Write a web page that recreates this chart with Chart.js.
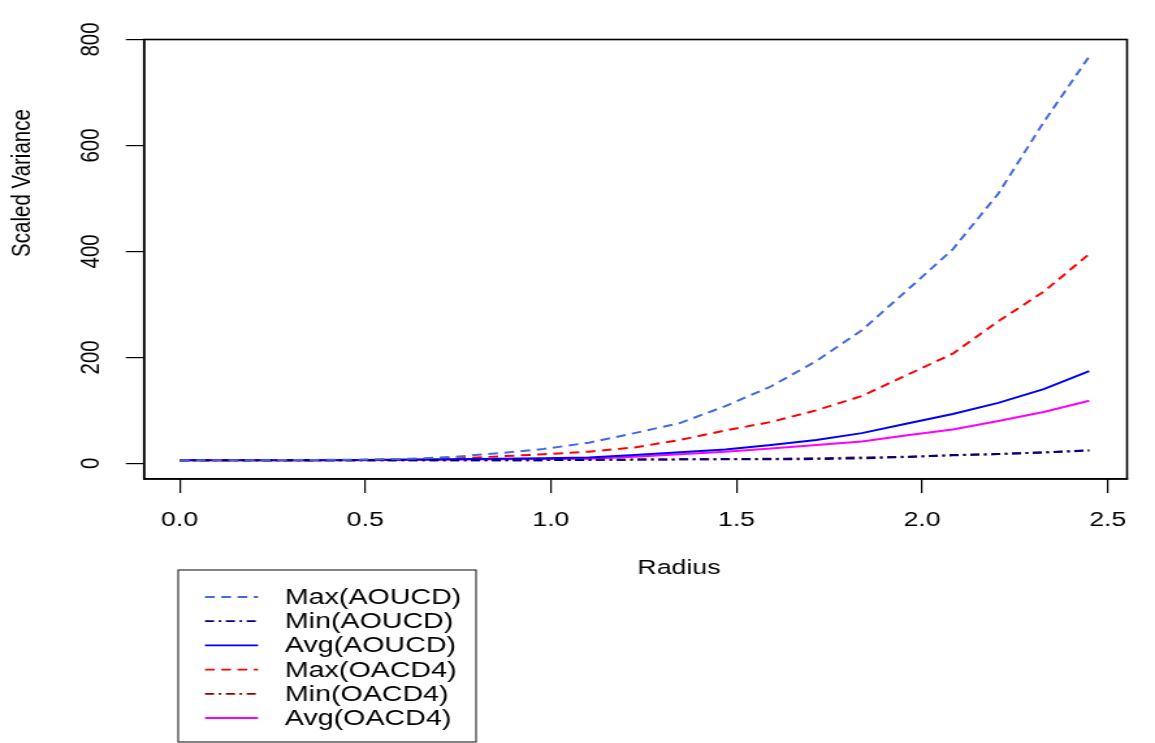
<!DOCTYPE html>
<html>
<head>
<meta charset="utf-8">
<script src="https://cdn.jsdelivr.net/npm/chart.js@4"></script>
<style>
  body { margin: 0; background: #fff; }
</style>
</head>
<body>
<canvas id="c" width="888" height="743" style="display:block;width:1155px;height:743px"></canvas>
<script>
// radius values (x) and the six series
const radius = [0, 0.1225, 0.245, 0.3675, 0.49, 0.6125, 0.735, 0.8575, 0.98, 1.1025, 1.225,
                1.3475, 1.47, 1.5925, 1.715, 1.8375, 1.96, 2.0825, 2.205, 2.3275, 2.45];
const maxAOUCD = [6, 6, 6, 6.5, 7, 8.5, 12, 19, 27, 39, 57, 76, 108, 145, 193, 251, 327, 404, 509, 644, 768];
const minAOUCD = [6, 6, 6, 6, 6, 6, 6, 6, 6, 6.5, 7, 7.5, 7.5, 7.5, 8, 9.5, 12, 15.5, 17.5, 20.5, 24.5];
const avgAOUCD = [6, 6, 6, 6, 6.5, 7, 7.5, 8.5, 9.5, 11, 15.5, 21, 26, 34.5, 44, 57, 75, 93, 114, 140, 174];
const maxOACD4 = [6, 6, 6, 6, 6.5, 7.5, 9, 13, 17, 22, 30, 44, 62, 78, 100, 127, 167, 207, 268, 324, 395];
const minOACD4 = [6, 6, 6, 6, 6, 6, 6, 6, 6, 6.5, 7, 7.5, 8, 8.5, 9.5, 11, 12.5, 15, 17.5, 20.5, 24];
const avgOACD4 = [6, 6, 6, 6, 6, 6.5, 7, 7.5, 8, 8.7, 12.5, 17, 22, 28, 34.5, 41, 53, 64, 80, 97, 118];

const xTicks = [0, 0.5, 1.0, 1.5, 2.0, 2.5];
const yTicks = [0, 200, 400, 600, 800];

const FONT = '20.5px "Liberation Sans", Arial, sans-serif';
const LEGEND_FONT = '22px "Liberation Sans", Arial, sans-serif';
const dashed = [7.5, 5];
const dotdash = [7, 3.5, 2, 3.5];

function pts(arr) {
    return radius.map((r, i) => ({ x: r, y: arr[i] }));
}

function mkSet(label, arr, color, dash) {
    return {
        label: label,
        data: pts(arr),
        borderColor: color,
        backgroundColor: color,
        borderDash: dash,
        borderWidth: 2,
        pointRadius: 0,
        tension: 0,
        fill: false
    };
}

// R-style box, tick labels, axis titles and legend
const rDecor = {
    id: 'rDecor',
    afterDraw(chart) {
        const ctx = chart.ctx;
        const a = chart.chartArea;
        const xs = chart.scales.x, ys = chart.scales.y;
        ctx.save();
        ctx.strokeStyle = '#000';
        ctx.lineWidth = 1.6;
        ctx.strokeRect(a.left, a.top, a.right - a.left, a.bottom - a.top);

        ctx.fillStyle = '#000';
        ctx.font = FONT;
        ctx.textAlign = 'center';
        ctx.textBaseline = 'middle';
        xs.ticks.forEach(t => {
            ctx.fillText(t.value.toFixed(1), xs.getPixelForValue(t.value), 520);
        });
        ys.ticks.forEach(t => {
            ctx.save();
            ctx.translate(70, ys.getPixelForValue(t.value));
            ctx.rotate(-Math.PI / 2);
            ctx.fillText(String(t.value), 0, 0);
            ctx.restore();
        });

        ctx.fillText('Radius', 522, 568);
        ctx.save();
        ctx.translate(17, 183);
        ctx.rotate(-Math.PI / 2);
        ctx.fillText('Scaled Variance', 0, 0);
        ctx.restore();

        // legend
        ctx.strokeStyle = '#333';
        ctx.lineWidth = 1.2;
        ctx.strokeRect(137, 570, 229, 172);
        ctx.font = LEGEND_FONT;
        ctx.textAlign = 'left';
        chart.data.datasets.forEach((ds, i) => {
            const y = 597 + i * 24.2;
            ctx.save();
            ctx.strokeStyle = ds.borderColor;
            ctx.lineWidth = 1.8;
            ctx.setLineDash(ds.borderDash || []);
            ctx.beginPath();
            ctx.moveTo(157.6, y);
            ctx.lineTo(198.4, y);
            ctx.stroke();
            ctx.restore();
            ctx.fillStyle = '#000';
            ctx.fillText(ds.label, 219, y + 1);
        });
        ctx.restore();
    }
};

const ctx = document.getElementById('c').getContext('2d');
const chart = new Chart(ctx, {
    type: 'line',
    data: {
        datasets: [
            mkSet('Max(AOUCD)', maxAOUCD, '#4169E1', dashed),
            mkSet('Min(AOUCD)', minAOUCD, '#00008B', dotdash),
            mkSet('Avg(AOUCD)', avgAOUCD, '#0000FF', []),
            mkSet('Max(OACD4)', maxOACD4, '#FF0000', dashed),
            mkSet('Min(OACD4)', minOACD4, '#8B0000', dotdash),
            mkSet('Avg(OACD4)', avgOACD4, '#FF00FF', [])
        ]
    },
    options: {
        responsive: false,
        devicePixelRatio: 1,
        animation: false,
        layout: { padding: { top: 39.5, right: 21.5, left: 0, bottom: 0 } },
        plugins: {
            legend: { display: false },
            tooltip: { enabled: false }
        },
        scales: {
            x: {
                type: 'linear',
                min: -0.096,
                max: 2.552,
                afterBuildTicks: s => { s.ticks = xTicks.map(v => ({ value: v })); },
                afterFit: s => { s.height = 264; },
                ticks: { display: false },
                grid: { drawOnChartArea: false, drawTicks: true, tickLength: 14, color: '#000', lineWidth: 1.2 },
                border: { display: true, color: '#000', width: 1.6 }
            },
            y: {
                type: 'linear',
                min: -29.6,
                max: 800,
                afterBuildTicks: s => { s.ticks = yTicks.map(v => ({ value: v })); },
                afterFit: s => { s.width = 110.7; },
                ticks: { display: false },
                grid: { drawOnChartArea: false, drawTicks: true, tickLength: 14, color: '#000', lineWidth: 1.2 },
                border: { display: true, color: '#000', width: 1.6 }
            }
        }
    },
    plugins: [rDecor]
});
</script>
</body>
</html>
